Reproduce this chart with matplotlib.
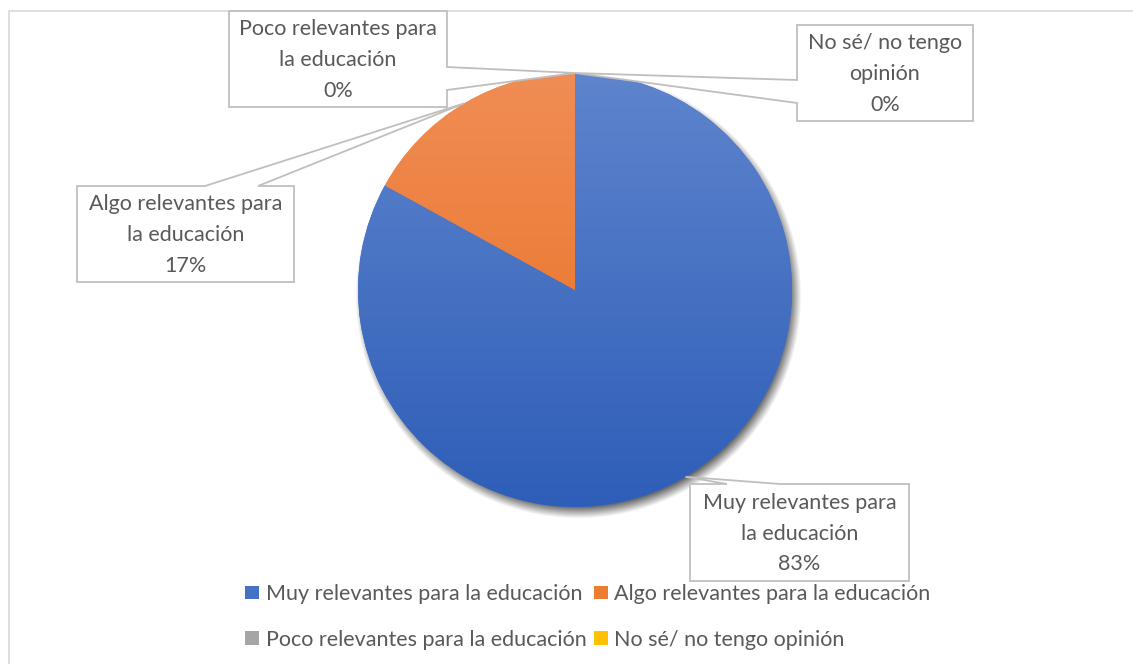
import numpy as np
import matplotlib
matplotlib.use("Agg")
import matplotlib.pyplot as plt
from matplotlib.patches import Patch, Rectangle, Polygon
from matplotlib.colors import LinearSegmentedColormap

# ---- data ----
categories = ["Muy relevantes para la educación", "Algo relevantes para la educación",
              "Poco relevantes para la educación", "No sé/ no tengo opinión"]
label_text = ["Muy relevantes para\nla educación", "Algo relevantes para\nla educación",
              "Poco relevantes para\nla educación", "No sé/ no tengo\nopinión"]
values = [83, 17, 0, 0]
colors = ["#4472C4", "#ED7D31", "#A5A5A5", "#FFC000"]
grad_top = ["#5E84CD", "#F08D55", "#B5B5B5", "#FFD040"]
grad_bot = ["#2E5EB8", "#E86D1C", "#959595", "#F0B400"]

plt.rcParams['font.family'] = ['Lato', 'DejaVu Sans']
TXT = "#595959"
FS = 15.5
W, H = 1133, 664
fig = plt.figure(figsize=(W / 100, H / 100), dpi=100)
ax = fig.add_axes([0, 0, 1, 1])

# chart border
ax.add_patch(Rectangle((8.5, -20), W + 20, H - 10.5 + 20, fill=False, ec="#D9D9D9", lw=1.2, zorder=0))

cx, cy, R = 575, H - 290, 217

# shadow
yy, xx = np.mgrid[0:H, 0:W]
d = np.hypot(xx - (cx + 3), (H - yy) - (cy - 5))
s = 6.0
alpha = np.clip((R + s - d) / (2 * s), 0, 1) * 0.6
sh = np.zeros((H, W, 4))
sh[..., 3] = alpha
ax.imshow(sh, extent=(0, W, 0, H), origin='upper', zorder=1, interpolation='bilinear')

wedges, _ = ax.pie(values, colors=colors, startangle=90, counterclock=False,
                   center=(cx, cy), radius=R, frame=True,
                   wedgeprops=dict(linewidth=0, zorder=2))
ax.set_xlim(0, W)
ax.set_ylim(0, H)
ax.set_aspect('equal')
ax.axis('off')

# gradient fill clipped to each wedge
for w, c1, c2 in zip(wedges, grad_top, grad_bot):
    cmap = LinearSegmentedColormap.from_list("g", [c2, c1])
    grad = np.linspace(0, 1, 256).reshape(-1, 1)
    im = ax.imshow(grad, cmap=cmap, origin='lower', aspect='auto',
                   extent=(cx - R, cx + R, cy - R, cy + R), zorder=3)
    im.set_clip_path(w)

# callouts
total = sum(values)
boxes = [
    ((690, 484, 909, 581), 'top', (727, 780)),
    ((77, 186, 294, 282), 'top', (205, 258)),
    ((229, 11, 447, 107), 'right', (67, 90)),
    ((797, 25, 973, 121), 'left', (80, 103)),
]
cum = 0
for i, v in enumerate(values):
    mid = cum + v / 2.0
    cum += v
    ang = np.deg2rad(90 - 360 * mid / total)
    tip = (cx + R * np.cos(ang), cy + R * np.sin(ang))
    (x0, t, x1, b), side, base = boxes[i]
    yt, yb = H - t, H - b
    if side == 'top':
        pts = [(x0, yt), (base[0], yt), tip, (base[1], yt), (x1, yt), (x1, yb), (x0, yb)]
    elif side == 'right':
        pts = [(x0, yt), (x1, yt), (x1, H - base[0]), tip, (x1, H - base[1]), (x1, yb), (x0, yb)]
    else:
        pts = [(x0, yt), (x1, yt), (x1, yb), (x0, yb), (x0, H - base[1]), tip, (x0, H - base[0])]
    ax.add_patch(Polygon(pts, closed=True, fc="white", ec="#BFBFBF", lw=1.3, zorder=5))
    pct = f"{v / total * 100:.0f}%"
    ax.text((x0 + x1) / 2, (yt + yb) / 2 - 1, f"{label_text[i]}\n{pct}", ha='center', va='center',
            fontsize=FS, color=TXT, linespacing=1.68, zorder=6)

# legend (row-wise order: Muy, Algo / Poco, No sé)
handles = [Patch(facecolor=colors[i], edgecolor='none', label=categories[i]) for i in range(4)]
order = [0, 2, 1, 3]
leg = ax.legend([handles[i] for i in order], [categories[i] for i in order], ncol=2,
                loc='center', bbox_to_anchor=(588 / W, (H - 617) / H), bbox_transform=fig.transFigure,
                frameon=False, fontsize=FS, handlelength=0.65, handleheight=0.6,
                handletextpad=0.3, columnspacing=0.35, labelspacing=1.2, labelcolor=TXT)

fig.savefig("out.png", dpi=100)
